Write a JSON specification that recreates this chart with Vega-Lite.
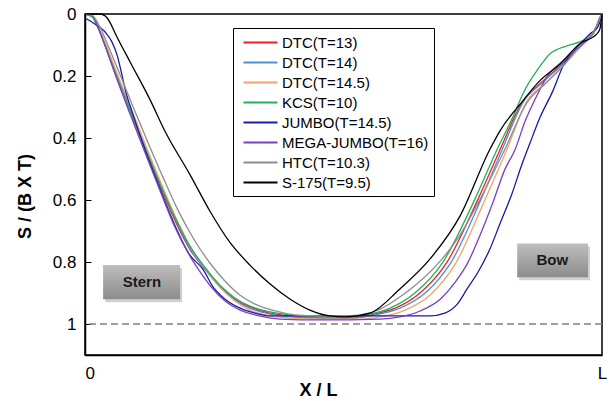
{
  "$schema": "https://vega.github.io/schema/vega-lite/v6.json",
  "width": 517,
  "height": 341,
  "autosize": {"type": "none"},
  "padding": {"left": 85, "top": 14, "right": 7, "bottom": 46},
  "background": "white",
  "config": {
    "view": {"stroke": "black", "strokeWidth": 1.5},
    "font": "Liberation Sans"
  },
  "datasets": {
    "curves": [
      {"ship": "DTC(T=13)", "x": 0, "s": 0},
      {"ship": "DTC(T=13)", "x": 0.014, "s": 0.006},
      {"ship": "DTC(T=13)", "x": 0.025, "s": 0.042},
      {"ship": "DTC(T=13)", "x": 0.039, "s": 0.100},
      {"ship": "DTC(T=13)", "x": 0.058, "s": 0.186},
      {"ship": "DTC(T=13)", "x": 0.087, "s": 0.312},
      {"ship": "DTC(T=13)", "x": 0.116, "s": 0.434},
      {"ship": "DTC(T=13)", "x": 0.145, "s": 0.553},
      {"ship": "DTC(T=13)", "x": 0.174, "s": 0.666},
      {"ship": "DTC(T=13)", "x": 0.203, "s": 0.759},
      {"ship": "DTC(T=13)", "x": 0.232, "s": 0.823},
      {"ship": "DTC(T=13)", "x": 0.261, "s": 0.878},
      {"ship": "DTC(T=13)", "x": 0.290, "s": 0.920},
      {"ship": "DTC(T=13)", "x": 0.319, "s": 0.945},
      {"ship": "DTC(T=13)", "x": 0.358, "s": 0.965},
      {"ship": "DTC(T=13)", "x": 0.397, "s": 0.974},
      {"ship": "DTC(T=13)", "x": 0.455, "s": 0.981},
      {"ship": "DTC(T=13)", "x": 0.513, "s": 0.981},
      {"ship": "DTC(T=13)", "x": 0.551, "s": 0.971},
      {"ship": "DTC(T=13)", "x": 0.600, "s": 0.949},
      {"ship": "DTC(T=13)", "x": 0.648, "s": 0.900},
      {"ship": "DTC(T=13)", "x": 0.700, "s": 0.801},
      {"ship": "DTC(T=13)", "x": 0.760, "s": 0.598},
      {"ship": "DTC(T=13)", "x": 0.803, "s": 0.437},
      {"ship": "DTC(T=13)", "x": 0.847, "s": 0.280},
      {"ship": "DTC(T=13)", "x": 0.880, "s": 0.225},
      {"ship": "DTC(T=13)", "x": 0.919, "s": 0.167},
      {"ship": "DTC(T=13)", "x": 0.957, "s": 0.103},
      {"ship": "DTC(T=13)", "x": 0.986, "s": 0.051},
      {"ship": "DTC(T=13)", "x": 1, "s": 0},

      {"ship": "DTC(T=14)", "x": 0, "s": 0},
      {"ship": "DTC(T=14)", "x": 0.014, "s": 0.006},
      {"ship": "DTC(T=14)", "x": 0.025, "s": 0.042},
      {"ship": "DTC(T=14)", "x": 0.039, "s": 0.096},
      {"ship": "DTC(T=14)", "x": 0.058, "s": 0.180},
      {"ship": "DTC(T=14)", "x": 0.087, "s": 0.305},
      {"ship": "DTC(T=14)", "x": 0.116, "s": 0.428},
      {"ship": "DTC(T=14)", "x": 0.145, "s": 0.547},
      {"ship": "DTC(T=14)", "x": 0.174, "s": 0.659},
      {"ship": "DTC(T=14)", "x": 0.203, "s": 0.756},
      {"ship": "DTC(T=14)", "x": 0.232, "s": 0.823},
      {"ship": "DTC(T=14)", "x": 0.261, "s": 0.881},
      {"ship": "DTC(T=14)", "x": 0.290, "s": 0.923},
      {"ship": "DTC(T=14)", "x": 0.319, "s": 0.949},
      {"ship": "DTC(T=14)", "x": 0.358, "s": 0.968},
      {"ship": "DTC(T=14)", "x": 0.397, "s": 0.977},
      {"ship": "DTC(T=14)", "x": 0.455, "s": 0.981},
      {"ship": "DTC(T=14)", "x": 0.513, "s": 0.981},
      {"ship": "DTC(T=14)", "x": 0.561, "s": 0.971},
      {"ship": "DTC(T=14)", "x": 0.609, "s": 0.949},
      {"ship": "DTC(T=14)", "x": 0.658, "s": 0.900},
      {"ship": "DTC(T=14)", "x": 0.708, "s": 0.801},
      {"ship": "DTC(T=14)", "x": 0.766, "s": 0.598},
      {"ship": "DTC(T=14)", "x": 0.807, "s": 0.437},
      {"ship": "DTC(T=14)", "x": 0.849, "s": 0.280},
      {"ship": "DTC(T=14)", "x": 0.882, "s": 0.225},
      {"ship": "DTC(T=14)", "x": 0.921, "s": 0.167},
      {"ship": "DTC(T=14)", "x": 0.959, "s": 0.103},
      {"ship": "DTC(T=14)", "x": 0.986, "s": 0.051},
      {"ship": "DTC(T=14)", "x": 1, "s": 0},

      {"ship": "DTC(T=14.5)", "x": 0, "s": 0},
      {"ship": "DTC(T=14.5)", "x": 0.014, "s": 0.006},
      {"ship": "DTC(T=14.5)", "x": 0.025, "s": 0.039},
      {"ship": "DTC(T=14.5)", "x": 0.039, "s": 0.093},
      {"ship": "DTC(T=14.5)", "x": 0.058, "s": 0.174},
      {"ship": "DTC(T=14.5)", "x": 0.087, "s": 0.296},
      {"ship": "DTC(T=14.5)", "x": 0.116, "s": 0.418},
      {"ship": "DTC(T=14.5)", "x": 0.145, "s": 0.537},
      {"ship": "DTC(T=14.5)", "x": 0.174, "s": 0.650},
      {"ship": "DTC(T=14.5)", "x": 0.203, "s": 0.749},
      {"ship": "DTC(T=14.5)", "x": 0.232, "s": 0.820},
      {"ship": "DTC(T=14.5)", "x": 0.261, "s": 0.881},
      {"ship": "DTC(T=14.5)", "x": 0.290, "s": 0.926},
      {"ship": "DTC(T=14.5)", "x": 0.319, "s": 0.955},
      {"ship": "DTC(T=14.5)", "x": 0.358, "s": 0.974},
      {"ship": "DTC(T=14.5)", "x": 0.397, "s": 0.981},
      {"ship": "DTC(T=14.5)", "x": 0.455, "s": 0.984},
      {"ship": "DTC(T=14.5)", "x": 0.532, "s": 0.984},
      {"ship": "DTC(T=14.5)", "x": 0.571, "s": 0.977},
      {"ship": "DTC(T=14.5)", "x": 0.619, "s": 0.955},
      {"ship": "DTC(T=14.5)", "x": 0.667, "s": 0.907},
      {"ship": "DTC(T=14.5)", "x": 0.716, "s": 0.807},
      {"ship": "DTC(T=14.5)", "x": 0.774, "s": 0.598},
      {"ship": "DTC(T=14.5)", "x": 0.816, "s": 0.437},
      {"ship": "DTC(T=14.5)", "x": 0.855, "s": 0.280},
      {"ship": "DTC(T=14.5)", "x": 0.890, "s": 0.225},
      {"ship": "DTC(T=14.5)", "x": 0.925, "s": 0.167},
      {"ship": "DTC(T=14.5)", "x": 0.957, "s": 0.109},
      {"ship": "DTC(T=14.5)", "x": 0.986, "s": 0.055},
      {"ship": "DTC(T=14.5)", "x": 1, "s": 0},

      {"ship": "KCS(T=10)", "x": 0, "s": 0},
      {"ship": "KCS(T=10)", "x": 0.014, "s": 0.010},
      {"ship": "KCS(T=10)", "x": 0.025, "s": 0.045},
      {"ship": "KCS(T=10)", "x": 0.039, "s": 0.103},
      {"ship": "KCS(T=10)", "x": 0.058, "s": 0.190},
      {"ship": "KCS(T=10)", "x": 0.087, "s": 0.312},
      {"ship": "KCS(T=10)", "x": 0.116, "s": 0.431},
      {"ship": "KCS(T=10)", "x": 0.145, "s": 0.547},
      {"ship": "KCS(T=10)", "x": 0.174, "s": 0.656},
      {"ship": "KCS(T=10)", "x": 0.203, "s": 0.749},
      {"ship": "KCS(T=10)", "x": 0.232, "s": 0.817},
      {"ship": "KCS(T=10)", "x": 0.261, "s": 0.875},
      {"ship": "KCS(T=10)", "x": 0.290, "s": 0.916},
      {"ship": "KCS(T=10)", "x": 0.319, "s": 0.942},
      {"ship": "KCS(T=10)", "x": 0.358, "s": 0.961},
      {"ship": "KCS(T=10)", "x": 0.397, "s": 0.971},
      {"ship": "KCS(T=10)", "x": 0.455, "s": 0.977},
      {"ship": "KCS(T=10)", "x": 0.503, "s": 0.977},
      {"ship": "KCS(T=10)", "x": 0.542, "s": 0.971},
      {"ship": "KCS(T=10)", "x": 0.590, "s": 0.949},
      {"ship": "KCS(T=10)", "x": 0.638, "s": 0.900},
      {"ship": "KCS(T=10)", "x": 0.692, "s": 0.801},
      {"ship": "KCS(T=10)", "x": 0.754, "s": 0.598},
      {"ship": "KCS(T=10)", "x": 0.797, "s": 0.437},
      {"ship": "KCS(T=10)", "x": 0.828, "s": 0.331},
      {"ship": "KCS(T=10)", "x": 0.847, "s": 0.257},
      {"ship": "KCS(T=10)", "x": 0.861, "s": 0.215},
      {"ship": "KCS(T=10)", "x": 0.874, "s": 0.183},
      {"ship": "KCS(T=10)", "x": 0.899, "s": 0.129},
      {"ship": "KCS(T=10)", "x": 0.932, "s": 0.103},
      {"ship": "KCS(T=10)", "x": 0.957, "s": 0.090},
      {"ship": "KCS(T=10)", "x": 0.983, "s": 0.064},
      {"ship": "KCS(T=10)", "x": 0.996, "s": 0.010},
      {"ship": "KCS(T=10)", "x": 1, "s": 0},

      {"ship": "JUMBO(T=14.5)", "x": 0, "s": 0.013},
      {"ship": "JUMBO(T=14.5)", "x": 0.019, "s": 0.032},
      {"ship": "JUMBO(T=14.5)", "x": 0.039, "s": 0.058},
      {"ship": "JUMBO(T=14.5)", "x": 0.052, "s": 0.090},
      {"ship": "JUMBO(T=14.5)", "x": 0.062, "s": 0.132},
      {"ship": "JUMBO(T=14.5)", "x": 0.070, "s": 0.186},
      {"ship": "JUMBO(T=14.5)", "x": 0.079, "s": 0.251},
      {"ship": "JUMBO(T=14.5)", "x": 0.091, "s": 0.315},
      {"ship": "JUMBO(T=14.5)", "x": 0.116, "s": 0.437},
      {"ship": "JUMBO(T=14.5)", "x": 0.145, "s": 0.563},
      {"ship": "JUMBO(T=14.5)", "x": 0.174, "s": 0.682},
      {"ship": "JUMBO(T=14.5)", "x": 0.203, "s": 0.778},
      {"ship": "JUMBO(T=14.5)", "x": 0.228, "s": 0.823},
      {"ship": "JUMBO(T=14.5)", "x": 0.248, "s": 0.881},
      {"ship": "JUMBO(T=14.5)", "x": 0.271, "s": 0.920},
      {"ship": "JUMBO(T=14.5)", "x": 0.300, "s": 0.949},
      {"ship": "JUMBO(T=14.5)", "x": 0.329, "s": 0.965},
      {"ship": "JUMBO(T=14.5)", "x": 0.358, "s": 0.974},
      {"ship": "JUMBO(T=14.5)", "x": 0.416, "s": 0.974},
      {"ship": "JUMBO(T=14.5)", "x": 0.667, "s": 0.974},
      {"ship": "JUMBO(T=14.5)", "x": 0.696, "s": 0.965},
      {"ship": "JUMBO(T=14.5)", "x": 0.720, "s": 0.936},
      {"ship": "JUMBO(T=14.5)", "x": 0.739, "s": 0.887},
      {"ship": "JUMBO(T=14.5)", "x": 0.760, "s": 0.833},
      {"ship": "JUMBO(T=14.5)", "x": 0.783, "s": 0.759},
      {"ship": "JUMBO(T=14.5)", "x": 0.803, "s": 0.675},
      {"ship": "JUMBO(T=14.5)", "x": 0.826, "s": 0.579},
      {"ship": "JUMBO(T=14.5)", "x": 0.843, "s": 0.495},
      {"ship": "JUMBO(T=14.5)", "x": 0.861, "s": 0.415},
      {"ship": "JUMBO(T=14.5)", "x": 0.880, "s": 0.334},
      {"ship": "JUMBO(T=14.5)", "x": 0.905, "s": 0.248},
      {"ship": "JUMBO(T=14.5)", "x": 0.925, "s": 0.167},
      {"ship": "JUMBO(T=14.5)", "x": 0.948, "s": 0.116},
      {"ship": "JUMBO(T=14.5)", "x": 0.977, "s": 0.064},
      {"ship": "JUMBO(T=14.5)", "x": 0.992, "s": 0.042},
      {"ship": "JUMBO(T=14.5)", "x": 1, "s": 0},

      {"ship": "MEGA-JUMBO(T=16)", "x": 0, "s": 0},
      {"ship": "MEGA-JUMBO(T=16)", "x": 0.014, "s": 0.006},
      {"ship": "MEGA-JUMBO(T=16)", "x": 0.025, "s": 0.042},
      {"ship": "MEGA-JUMBO(T=16)", "x": 0.039, "s": 0.103},
      {"ship": "MEGA-JUMBO(T=16)", "x": 0.058, "s": 0.193},
      {"ship": "MEGA-JUMBO(T=16)", "x": 0.087, "s": 0.322},
      {"ship": "MEGA-JUMBO(T=16)", "x": 0.116, "s": 0.447},
      {"ship": "MEGA-JUMBO(T=16)", "x": 0.145, "s": 0.569},
      {"ship": "MEGA-JUMBO(T=16)", "x": 0.174, "s": 0.688},
      {"ship": "MEGA-JUMBO(T=16)", "x": 0.203, "s": 0.781},
      {"ship": "MEGA-JUMBO(T=16)", "x": 0.222, "s": 0.830},
      {"ship": "MEGA-JUMBO(T=16)", "x": 0.246, "s": 0.884},
      {"ship": "MEGA-JUMBO(T=16)", "x": 0.271, "s": 0.926},
      {"ship": "MEGA-JUMBO(T=16)", "x": 0.300, "s": 0.955},
      {"ship": "MEGA-JUMBO(T=16)", "x": 0.338, "s": 0.974},
      {"ship": "MEGA-JUMBO(T=16)", "x": 0.377, "s": 0.984},
      {"ship": "MEGA-JUMBO(T=16)", "x": 0.455, "s": 0.987},
      {"ship": "MEGA-JUMBO(T=16)", "x": 0.571, "s": 0.984},
      {"ship": "MEGA-JUMBO(T=16)", "x": 0.609, "s": 0.977},
      {"ship": "MEGA-JUMBO(T=16)", "x": 0.648, "s": 0.958},
      {"ship": "MEGA-JUMBO(T=16)", "x": 0.687, "s": 0.920},
      {"ship": "MEGA-JUMBO(T=16)", "x": 0.716, "s": 0.865},
      {"ship": "MEGA-JUMBO(T=16)", "x": 0.739, "s": 0.807},
      {"ship": "MEGA-JUMBO(T=16)", "x": 0.764, "s": 0.714},
      {"ship": "MEGA-JUMBO(T=16)", "x": 0.789, "s": 0.608},
      {"ship": "MEGA-JUMBO(T=16)", "x": 0.812, "s": 0.502},
      {"ship": "MEGA-JUMBO(T=16)", "x": 0.832, "s": 0.437},
      {"ship": "MEGA-JUMBO(T=16)", "x": 0.851, "s": 0.347},
      {"ship": "MEGA-JUMBO(T=16)", "x": 0.870, "s": 0.277},
      {"ship": "MEGA-JUMBO(T=16)", "x": 0.896, "s": 0.196},
      {"ship": "MEGA-JUMBO(T=16)", "x": 0.925, "s": 0.151},
      {"ship": "MEGA-JUMBO(T=16)", "x": 0.957, "s": 0.106},
      {"ship": "MEGA-JUMBO(T=16)", "x": 0.986, "s": 0.051},
      {"ship": "MEGA-JUMBO(T=16)", "x": 1, "s": 0},

      {"ship": "HTC(T=10.3)", "x": 0, "s": 0},
      {"ship": "HTC(T=10.3)", "x": 0.015, "s": 0.006},
      {"ship": "HTC(T=10.3)", "x": 0.029, "s": 0.042},
      {"ship": "HTC(T=10.3)", "x": 0.043, "s": 0.096},
      {"ship": "HTC(T=10.3)", "x": 0.064, "s": 0.180},
      {"ship": "HTC(T=10.3)", "x": 0.093, "s": 0.299},
      {"ship": "HTC(T=10.3)", "x": 0.122, "s": 0.415},
      {"ship": "HTC(T=10.3)", "x": 0.151, "s": 0.527},
      {"ship": "HTC(T=10.3)", "x": 0.182, "s": 0.640},
      {"ship": "HTC(T=10.3)", "x": 0.213, "s": 0.733},
      {"ship": "HTC(T=10.3)", "x": 0.242, "s": 0.804},
      {"ship": "HTC(T=10.3)", "x": 0.271, "s": 0.862},
      {"ship": "HTC(T=10.3)", "x": 0.300, "s": 0.907},
      {"ship": "HTC(T=10.3)", "x": 0.329, "s": 0.936},
      {"ship": "HTC(T=10.3)", "x": 0.368, "s": 0.958},
      {"ship": "HTC(T=10.3)", "x": 0.406, "s": 0.971},
      {"ship": "HTC(T=10.3)", "x": 0.455, "s": 0.974},
      {"ship": "HTC(T=10.3)", "x": 0.503, "s": 0.974},
      {"ship": "HTC(T=10.3)", "x": 0.532, "s": 0.971},
      {"ship": "HTC(T=10.3)", "x": 0.571, "s": 0.952},
      {"ship": "HTC(T=10.3)", "x": 0.609, "s": 0.913},
      {"ship": "HTC(T=10.3)", "x": 0.648, "s": 0.862},
      {"ship": "HTC(T=10.3)", "x": 0.687, "s": 0.797},
      {"ship": "HTC(T=10.3)", "x": 0.725, "s": 0.714},
      {"ship": "HTC(T=10.3)", "x": 0.764, "s": 0.598},
      {"ship": "HTC(T=10.3)", "x": 0.812, "s": 0.437},
      {"ship": "HTC(T=10.3)", "x": 0.855, "s": 0.286},
      {"ship": "HTC(T=10.3)", "x": 0.890, "s": 0.225},
      {"ship": "HTC(T=10.3)", "x": 0.925, "s": 0.167},
      {"ship": "HTC(T=10.3)", "x": 0.957, "s": 0.103},
      {"ship": "HTC(T=10.3)", "x": 0.986, "s": 0.051},
      {"ship": "HTC(T=10.3)", "x": 1, "s": 0},

      {"ship": "S-175(T=9.5)", "x": 0, "s": 0},
      {"ship": "S-175(T=9.5)", "x": 0.029, "s": 0},
      {"ship": "S-175(T=9.5)", "x": 0.039, "s": 0.006},
      {"ship": "S-175(T=9.5)", "x": 0.048, "s": 0.026},
      {"ship": "S-175(T=9.5)", "x": 0.058, "s": 0.061},
      {"ship": "S-175(T=9.5)", "x": 0.087, "s": 0.154},
      {"ship": "S-175(T=9.5)", "x": 0.126, "s": 0.277},
      {"ship": "S-175(T=9.5)", "x": 0.155, "s": 0.379},
      {"ship": "S-175(T=9.5)", "x": 0.203, "s": 0.518},
      {"ship": "S-175(T=9.5)", "x": 0.242, "s": 0.637},
      {"ship": "S-175(T=9.5)", "x": 0.280, "s": 0.736},
      {"ship": "S-175(T=9.5)", "x": 0.319, "s": 0.810},
      {"ship": "S-175(T=9.5)", "x": 0.358, "s": 0.871},
      {"ship": "S-175(T=9.5)", "x": 0.397, "s": 0.920},
      {"ship": "S-175(T=9.5)", "x": 0.435, "s": 0.955},
      {"ship": "S-175(T=9.5)", "x": 0.474, "s": 0.974},
      {"ship": "S-175(T=9.5)", "x": 0.503, "s": 0.977},
      {"ship": "S-175(T=9.5)", "x": 0.551, "s": 0.965},
      {"ship": "S-175(T=9.5)", "x": 0.609, "s": 0.887},
      {"ship": "S-175(T=9.5)", "x": 0.667, "s": 0.791},
      {"ship": "S-175(T=9.5)", "x": 0.725, "s": 0.653},
      {"ship": "S-175(T=9.5)", "x": 0.783, "s": 0.437},
      {"ship": "S-175(T=9.5)", "x": 0.803, "s": 0.376},
      {"ship": "S-175(T=9.5)", "x": 0.847, "s": 0.280},
      {"ship": "S-175(T=9.5)", "x": 0.880, "s": 0.215},
      {"ship": "S-175(T=9.5)", "x": 0.919, "s": 0.161},
      {"ship": "S-175(T=9.5)", "x": 0.957, "s": 0.096},
      {"ship": "S-175(T=9.5)", "x": 0.990, "s": 0.064},
      {"ship": "S-175(T=9.5)", "x": 0.996, "s": 0.048},
      {"ship": "S-175(T=9.5)", "x": 1, "s": 0}
    ],
    "boxes": [
      {"label": "Stern", "x": 0.035, "x2": 0.184, "s": 0.810, "s2": 0.920, "cx": 0.110, "cs": 0.865},
      {"label": "Bow", "x": 0.836, "x2": 0.973, "s": 0.740, "s2": 0.849, "cx": 0.904, "cs": 0.794}
    ],
    "ref": [{"s": 1}]
  },
  "layer": [
    {
      "data": {"name": "curves"},
      "mark": {"type": "line", "interpolate": "monotone", "strokeWidth": 1.3},
      "encoding": {
        "x": {
          "field": "x", "type": "quantitative",
          "scale": {"domain": [0, 1], "nice": false, "zero": false},
          "axis": {
            "title": "X / L", "titleFont": "Liberation Sans", "titleFontSize": 18, "titleFontWeight": "bold", "titleColor": "#000",
            "titleX": 233, "titleY": 26, "titleBaseline": "top", "titleAlign": "center",
            "values": [0, 1], "labelExpr": "datum.value == 0 ? '0' : 'L'",
            "labelFont": "Liberation Sans", "labelFontSize": 17, "labelColor": "#000", "labelPadding": 10,
            "labelAlign": {"condition": {"test": "datum.value == 0", "value": "left"}, "value": "center"},
            "ticks": false, "domain": true, "domainColor": "#000", "domainWidth": 1.5, "grid": false
          }
        },
        "y": {
          "field": "s", "type": "quantitative",
          "scale": {"domain": [0, 1.1], "reverse": true, "nice": false, "zero": false},
          "axis": {
            "title": "S / (B X T)", "titleFont": "Liberation Sans", "titleFontSize": 18, "titleFontWeight": "bold", "titleColor": "#000",
            "titleX": -51, "titleY": 182, "titleAngle": 270, "titleAlign": "center", "titleBaseline": "bottom",
            "values": [0, 0.2, 0.4, 0.6, 0.8, 1], "labelExpr": "format(datum.value, '~g')",
            "labelFont": "Liberation Sans", "labelFontSize": 17, "labelColor": "#000", "labelPadding": 15,
            "ticks": true, "tickSize": -6, "tickColor": "#000", "tickWidth": 1,
            "domain": true, "domainColor": "#000", "domainWidth": 1.5, "grid": false
          }
        },
        "color": {
          "field": "ship", "type": "nominal",
          "scale": {
            "domain": ["DTC(T=13)", "DTC(T=14)", "DTC(T=14.5)", "KCS(T=10)", "JUMBO(T=14.5)", "MEGA-JUMBO(T=16)", "HTC(T=10.3)", "S-175(T=9.5)"],
            "range": ["#F02020", "#4A90D9", "#F5A26A", "#22B05A", "#1A1AA6", "#7B3FBF", "#8E8E8E", "#000000"]
          },
          "legend": {
            "orient": "none", "legendX": 148, "legendY": 14, "title": null,
            "strokeColor": "#000", "fillColor": "#fff", "padding": 5,
            "labelFont": "Liberation Sans", "labelFontSize": 15, "labelColor": "#000", "labelLimit": 300,
            "symbolType": "M-2,0H2", "symbolSize": 289, "symbolStrokeWidth": 2, "symbolOffset": 13,
            "rowPadding": 2, "labelOffset": 12
          }
        }
      }
    },
    {
      "data": {"name": "boxes"},
      "mark": {"type": "rect", "fill": "#000000", "opacity": 0.18, "xOffset": 2, "yOffset": 3, "x2Offset": 2, "y2Offset": 3},
      "encoding": {
        "x": {"field": "x", "type": "quantitative"},
        "x2": {"field": "x2"},
        "y": {"field": "s", "type": "quantitative"},
        "y2": {"field": "s2"}
      }
    },
    {
      "data": {"name": "boxes"},
      "mark": {
        "type": "rect",
        "fill": {"gradient": "linear", "x1": 0, "y1": 0, "x2": 0, "y2": 1,
          "stops": [{"offset": 0, "color": "#BEBEBE"}, {"offset": 1, "color": "#8C8C8C"}]}
      },
      "encoding": {
        "x": {"field": "x", "type": "quantitative"},
        "x2": {"field": "x2"},
        "y": {"field": "s", "type": "quantitative"},
        "y2": {"field": "s2"}
      }
    },
    {
      "data": {"name": "boxes"},
      "mark": {"type": "text", "font": "Liberation Sans", "fontSize": 15, "fontWeight": "bold", "color": "#1a1a1a", "align": "center", "baseline": "middle"},
      "encoding": {
        "x": {"field": "cx", "type": "quantitative"},
        "y": {"field": "cs", "type": "quantitative"},
        "text": {"field": "label"}
      }
    },
    {
      "data": {"name": "ref"},
      "mark": {"type": "rule", "color": "#808080", "strokeWidth": 1.5, "strokeDash": [7, 4]},
      "encoding": {
        "y": {"field": "s", "type": "quantitative"}
      }
    }
  ]
}
